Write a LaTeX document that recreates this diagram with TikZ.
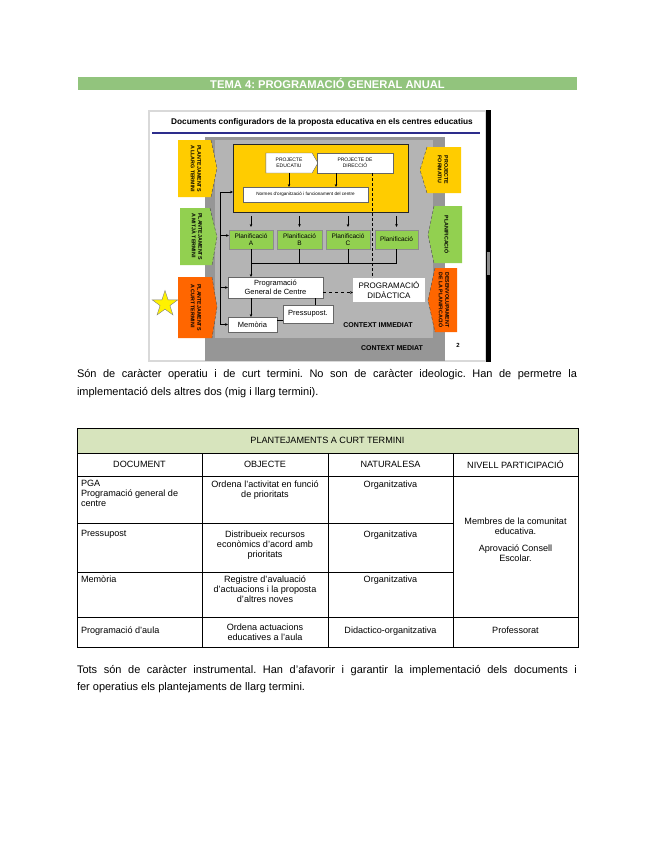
\documentclass[tikz,border=0pt]{standalone}
\usepackage{fontspec}
\setmainfont{Liberation Sans}
\usepackage{xcolor}
\usepackage{tikz}
\usetikzlibrary{shapes,shapes.geometric,arrows.meta,positioning,calc}

\definecolor{temagreen}{RGB}{146,196,125}
\definecolor{headgreen}{RGB}{215,228,189}
\definecolor{slideyellow}{RGB}{255,204,0}
\definecolor{slidegreen}{RGB}{146,208,80}
\definecolor{slideorange}{RGB}{255,102,0}
\definecolor{mediatgray}{RGB}{150,150,150}
\definecolor{immediatgray}{RGB}{180,180,180}
\definecolor{slideblue}{RGB}{45,45,140}
\frenchspacing

\begin{document}
\begin{tikzpicture}[
    x=1pt, y=-1pt,
    every node/.style={inner sep=0pt, outer sep=0pt},
    whitebox/.style={rectangle, draw=black!60, line width=0.4pt, fill=white, align=center, font=\fontsize{7.5}{8.5}\selectfont},
    tinybox/.style={whitebox, font=\fontsize{5}{6}\selectfont},
    planbox/.style={rectangle, draw=black!45, line width=0.4pt, fill=slidegreen, align=center, minimum height=19pt, font=\fontsize{6.5}{7.5}\selectfont},
    sidetext/.style={rotate=-90, align=left, font=\fontsize{5.3}{6.5}\selectfont\bfseries},
    slant/.style={densely dashed, draw=black!70, line width=0.4pt},
    context/.style={font=\fontsize{7}{8}\selectfont\bfseries},
    para/.style={anchor=north west, text width=500pt, align=justify, font=\fontsize{11}{17.5}\selectfont},
    cell/.style={anchor=north, align=center, font=\fontsize{9.1}{10}\selectfont},
    lcell/.style={cell, anchor=north west, align=left},
    arrow/.style={-{Stealth[length=3pt,width=2.6pt]}, line width=0.5pt, draw=black}
]
    \useasboundingbox[fill=white] (0,0) rectangle (655,848);

    % capçalera
    \fill[temagreen] (78,77) rectangle (577,90);
    \node [font=\fontsize{11.2}{12}\selectfont\bfseries, text=white] (tema) at (327.5,83.8) {TEMA 4: PROGRAMACIÓ GENERAL ANUAL};

    % diapositiva
    \filldraw[fill=white, draw=black!15, line width=1.2pt] (149,111) rectangle (486,361);
    \fill[black] (486,110) rectangle (491,362);
    \fill[black!45] (487,252) rectangle (490,275);
    \node [font=\fontsize{8.3}{9}\selectfont\bfseries] (slidetitle) at (322,122) {Documents configuradors de la proposta educativa en els centres educatius};
    \draw[slideblue, line width=1.8pt] (152,133) -- (480,133);
    \fill[mediatgray] (205,137) rectangle (445,361);
    \fill[immediatgray] (215,140) rectangle (433,338);
    \node [context] (mediat) at (392,348) {CONTEXT MEDIAT};
    \node [context] (immediat) at (378,325) {CONTEXT IMMEDIAT};
    \node [font=\fontsize{6}{7}\selectfont\bfseries] (pagina) at (458,345) {2};

    % etiquetes de l'esquerra
    \fill[slideyellow] (178,140) -- (211,140) -- (217,168) -- (211,197) -- (178,197) -- cycle;
    \draw[slant] (211,140) -- (217,168) -- (211,197);
    \node [sidetext] (llarg) at (196,168.5) {PLANTEJAMENTS\\A LLARG TERMINI};
    \fill[slidegreen] (180,208) -- (210,208) -- (217,237) -- (212,265) -- (180,265) -- cycle;
    \draw[slant] (210,208) -- (217,237) -- (212,265);
    \node [sidetext] (mitja) at (197,236.5) {PLANTEJAMENTS\\A MITJÀ TERMINI};
    \fill[slideorange] (178,277) -- (212,277) -- (217,307) -- (212,338) -- (178,338) -- cycle;
    \draw[slant] (212,277) -- (217,307) -- (212,338);
    \node [sidetext] (curt) at (196,307.5) {PLANTEJAMENTS\\A CURT TERMINI};
    \node [star, star points=5, star point ratio=2.6, minimum size=27pt, fill=yellow, draw=black!50, line width=0.4pt] (estrella) at (165,304) {};

    % etiquetes de la dreta
    \fill[slideyellow] (427,147) -- (461,147) -- (461,193) -- (427,193) -- (420,170) -- cycle;
    \draw[slant] (427,147) -- (420,170) -- (427,193);
    \node [sidetext] (formatiu) at (443,170) {PROJECTE\\FORMATIU};
    \fill[slidegreen] (434,206) -- (462,206) -- (462,263) -- (434,263) -- (428,235) -- cycle;
    \draw[slant] (434,206) -- (428,235) -- (434,263);
    \node [sidetext] (planific) at (447,234.5) {PLANIFICACIÓ};
    \fill[slideorange] (435,268) -- (457,268) -- (457,332) -- (435,332) -- (428,300) -- cycle;
    \draw[slant] (435,268) -- (428,300) -- (435,332);
    \node [sidetext] (desenv) at (444,300) {DESENVOLUPAMENT\\DE LA PLANIFICACIÓ};

    % documents a llarg termini
    \node [rectangle, draw=black!85, line width=1pt, fill=slideyellow, minimum width=175pt, minimum height=68pt] (marc) at (320.5,178) {};
    \node [tinybox, signal, signal to=east, signal pointer angle=120, minimum width=52pt, minimum height=20pt] (projedu) at (289,163) {PROJECTE\\EDUCATIU};
    \node [tinybox, minimum width=76pt, minimum height=20pt] (projdir) at (355,163) {PROJECTE DE\\DIRECCIÓ};
    \node [tinybox, font=\fontsize{4.6}{5.5}\selectfont, minimum width=125pt, minimum height=15pt] (normes) at (305.5,194.5) {Normes d'organització i funcionament del centre};
    \draw [arrow] (projedu.south) -- (projedu.south |- normes.north);
    \draw [arrow] ([xshift=-19pt]projdir.south) -- ([xshift=-19pt]projdir.south |- normes.north);

    % planificacions
    \node [planbox, minimum width=44pt] (planA) at (251,239.5) {Planificació\\A};
    \node [planbox, minimum width=45pt] (planB) at (299.5,239.5) {Planificació\\B};
    \node [planbox, minimum width=44pt] (planC) at (348,239.5) {Planificació\\C};
    \node [planbox, minimum width=43pt] (planD) at (396.5,239.5) {Planificació};
    \foreach \p in {planA,planB,planC,planD}
        \draw [arrow, shorten <=4pt, shorten >=3pt] (\p.north |- marc.south) -- (\p.north);

    % documents a curt termini
    \node [whitebox, minimum width=95pt, minimum height=21pt] (pgc) at (275.5,287.5) {Programació\\General de Centre};
    \node [whitebox, draw=none, font=\fontsize{8}{9.5}\selectfont, minimum width=72pt, minimum height=24pt] (pgd) at (389,290) {PROGRAMACIÓ\\DIDÀCTICA};
    \node [whitebox, minimum width=49pt, minimum height=15pt] (memoria) at (252.5,324.5) {Memòria};
    \node [whitebox, minimum width=50pt, minimum height=18pt] (pressupost) at (308,314) {Pressupost.};

    \coordinate (recull) at (planA.south |- 0,263);
    \draw [line width=0.6pt] (planD.south) |- (recull);
    \draw [line width=0.6pt] (planB.south) -- (planB.south |- recull);
    \draw [line width=0.6pt] (planC.south) -- (planC.south |- recull);
    \draw [arrow, line width=0.6pt] (planA.south) -- (planA.south |- pgc.north);
    \draw [densely dashed, line width=0.7pt] ([xshift=17pt]projdir.south) -- ([xshift=17pt]projdir.south |- pgd.north);
    \draw [arrow, dashed] ([yshift=-5pt]pgc.east) -- ([yshift=-5pt]pgc.east -| pgd.west);
    \draw [arrow] (pgc.south -| planA.south) -- (memoria.north -| planA.south);
    \draw [line width=1.3pt] ([xshift=40pt]pgc.south) -- ([xshift=40pt]pgc.south |- pressupost.north);
    \draw [line width=0.6pt] ([yshift=4pt]memoria.east) -- ([yshift=4pt]memoria.east -| pressupost.west);

    % retorn
    \coordinate (retorn) at (220,192);
    \draw [line width=0.6pt] (retorn) -- (memoria.west -| retorn);
    \draw [arrow] (retorn) -- (retorn -| marc.west);
    \draw [arrow] ([yshift=4pt]planA.west -| retorn) -- ([yshift=4pt]planA.west);
    \draw [arrow] (pgc.west -| retorn) -- (pgc.west);
    \draw [arrow] (memoria.west -| retorn) -- (memoria.west);

    % paràgraf
    \node [para] (para1) at (77,369.5) {Són de caràcter operatiu i de curt termini. No son de caràcter ideologic. Han de permetre la\linebreak implementació dels altres dos (mig i llarg termini).};

    % taula
    \fill[headgreen] (77,428) rectangle (578,453);
    \draw[line width=0.5pt] (77,453) -- (578,453) (77,476) -- (578,476) (77,617) -- (578,617)
        (77,523) -- (453,523) (77,572) -- (453,572)
        (202,453) -- (202,647) (328,453) -- (328,647) (453,453) -- (453,647);
    \draw[line width=0.9pt] (77,428) rectangle (578,647);
    \node [cell, anchor=center] (titol) at (327.5,440.5) {PLANTEJAMENTS A CURT TERMINI};
    \node [cell, anchor=center] (hdoc) at (139.5,464.5) {DOCUMENT};
    \node [cell, anchor=center] (hobj) at (265,464.5) {OBJECTE};
    \node [cell, anchor=center] (hnat) at (390.5,464.5) {NATURALESA};
    \node [cell, anchor=center] (hniv) at (515.5,464.5) {NIVELL PARTICIPACIÓ};

    \node [lcell] (doc1) at (81,480.5) {PGA\\Programació general de\\centre};
    \node [cell] (obj1) at (265,480.5) {Ordena l'activitat en funció\\de prioritats};
    \node [cell] (nat1) at (390.5,480.5) {Organitzativa};
    \node [lcell] (doc2) at (81,530.5) {Pressupost};
    \node [cell] (obj2) at (265,530.5) {Distribueix recursos\\econòmics d'acord amb\\prioritats};
    \node [cell] (nat2) at (390.5,530.5) {Organitzativa};
    \node [lcell] (doc3) at (81,575.5) {Memòria};
    \node [cell] (obj3) at (265,575.5) {Registre d'avaluació\\d'actuacions i la proposta\\d'altres noves};
    \node [cell] (nat3) at (390.5,575.5) {Organitzativa};
    \node [cell] (niv1) at (515.5,517.5) {Membres de la comunitat\\educativa.\\[7pt]Aprovació Consell\\Escolar.};
    \node [lcell] (doc4) at (81,626.5) {Programació d'aula};
    \node [cell] (obj4) at (265,623.5) {Ordena actuacions\\educatives a l'aula};
    \node [cell] (nat4) at (390.5,626.5) {Didactico-organitzativa};
    \node [cell] (niv4) at (515.5,626.5) {Professorat};

    % paràgraf final
    \node [para] (para2) at (77,665) {Tots són de caràcter instrumental. Han d'afavorir i garantir la implementació dels documents i\linebreak fer operatius els plantejaments de llarg termini.};
\end{tikzpicture}
\end{document}
